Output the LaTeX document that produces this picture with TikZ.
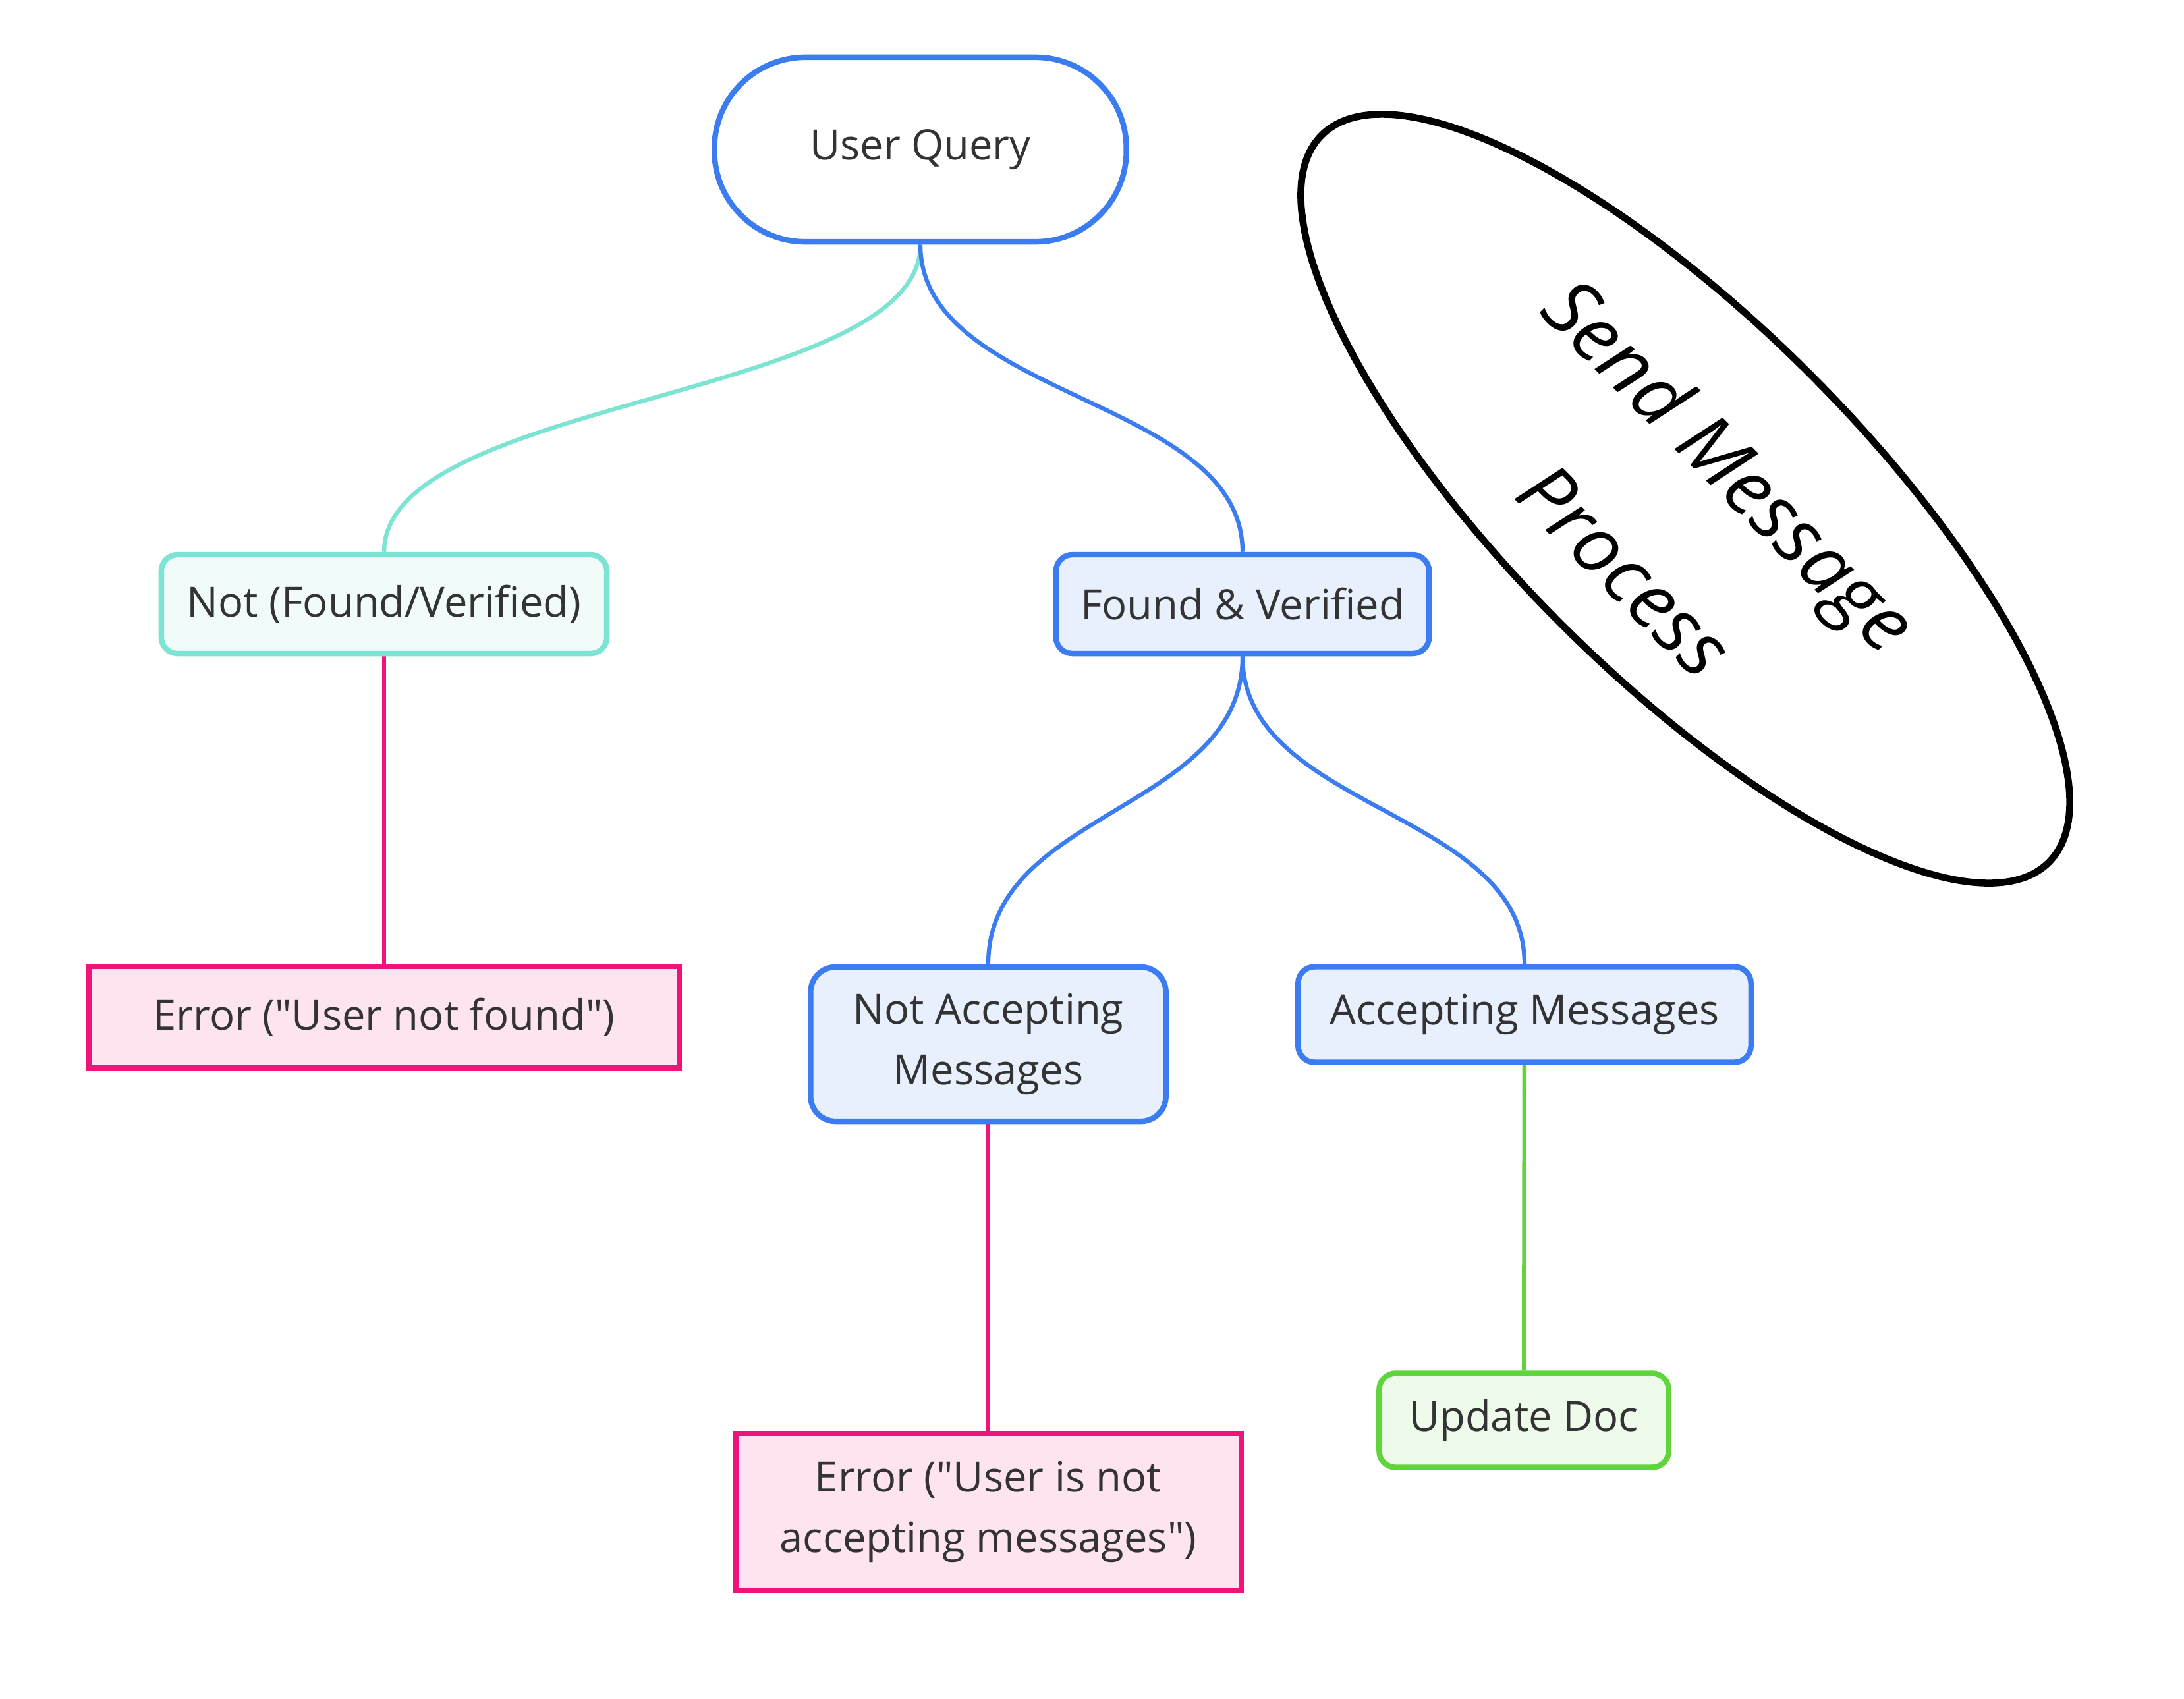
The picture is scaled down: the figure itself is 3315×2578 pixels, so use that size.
\documentclass[tikz,border=0pt]{standalone}
\usepackage{fontspec}
\setmainfont{Open Sans}
\usepackage{xcolor}
\usetikzlibrary{shapes.geometric,positioning,backgrounds}

\definecolor{bluestroke}{HTML}{3B7DF0}
\definecolor{bluefill}{HTML}{E8F0FE}
\definecolor{tealstroke}{HTML}{7DE3D3}
\definecolor{tealfill}{HTML}{F1FBFA}
\definecolor{pinkstroke}{HTML}{F0137A}
\definecolor{pinkfill}{HTML}{FDE4F0}
\definecolor{greenstroke}{HTML}{5FD43C}
\definecolor{greenfill}{HTML}{EEFBEA}
\definecolor{textgray}{HTML}{333333}

\begin{document}
\begin{tikzpicture}[
    x=0.01cm, y=-0.01cm,
    state/.style={rectangle, rounded corners=0.25cm, draw, line width=2.4pt, align=center, inner sep=0pt, text=textgray, font=\fontsize{18}{26}\selectfont},
    okstate/.style={state, draw=bluestroke, fill=bluefill},
    failstate/.style={state, draw=tealstroke, fill=tealfill},
    errstate/.style={state, sharp corners, draw=pinkstroke, fill=pinkfill},
    donestate/.style={state, draw=greenstroke, fill=greenfill},
    link/.style={line width=1.8pt}
  ]
    \useasboundingbox (0,0) rectangle (3315,2578);

    \node[state, draw=bluestroke, fill=white, rounded corners=1.38cm, minimum width=6.25cm, minimum height=2.8cm] (query) at (1397,227) {User Query};
    \node[failstate, minimum width=6.76cm, minimum height=1.5cm] (notfound) at (583,917) {Not (Found/Verified)};
    \node[okstate, minimum width=5.66cm, minimum height=1.5cm] (found) at (1886,917) {Found \& Verified};
    \node[errstate, minimum width=8.96cm, minimum height=1.54cm] (usererr) at (583,1544) {Error (\textquotedbl User not found\textquotedbl)};
    \node[okstate, rounded corners=0.38cm, minimum width=5.39cm, minimum height=2.34cm] (notaccepting) at (1500,1585) {Not Accepting\\Messages};
    \node[okstate, minimum width=6.87cm, minimum height=1.45cm] (accepting) at (2314,1540) {Accepting Messages};
    \node[errstate, minimum width=7.67cm, minimum height=2.38cm] (accepterr) at (1500,2295) {Error (\textquotedbl User is not\\accepting messages\textquotedbl)};
    \node[donestate, minimum width=4.39cm, minimum height=1.43cm] (update) at (2313,2156) {Update Doc};

    % title bubble
    \node[draw, ellipse, line width=3pt, rotate=-45, minimum width=15.6cm, minimum height=5.35cm, inner sep=0pt] (bubble) at (2558,757) {};
    \node[rotate=-45, align=center, font=\fontsize{34}{64}\selectfont\itshape] (title) at (2548,784) {Send Message\\Process};

    \begin{scope}[on background layer]
      \fill[white] (0,0) rectangle (3315,2578);
      \draw[link, draw=tealstroke] (query.south) .. controls +(0,235) and +(0,-235) .. (notfound.north);
      \draw[link, draw=bluestroke] (query.south) .. controls +(0,235) and +(0,-235) .. (found.north);
      \draw[link, draw=bluestroke] (found.south) .. controls +(0,235) and +(0,-235) .. (notaccepting.north);
      \draw[link, draw=bluestroke] (found.south) .. controls +(0,235) and +(0,-235) .. (accepting.north);
      \draw[link, draw=pinkstroke] (notfound) -- (usererr);
      \draw[link, draw=pinkstroke] (notaccepting) -- (accepterr);
      \draw[link, draw=greenstroke] (accepting) -- (update);
    \end{scope}
\end{tikzpicture}
\end{document}
